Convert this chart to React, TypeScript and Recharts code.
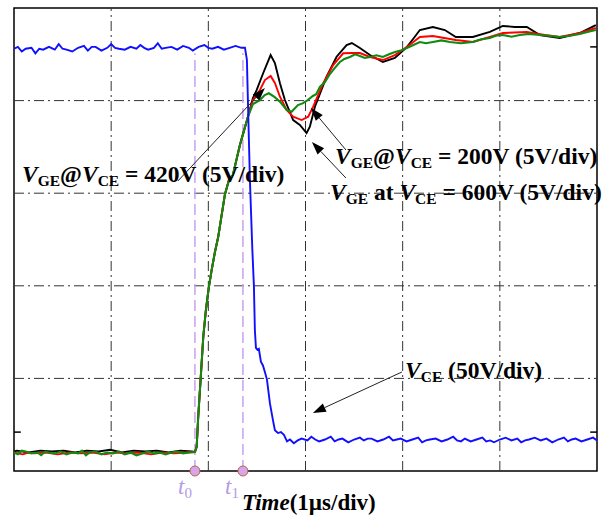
import React from 'react';
import {
  LineChart,
  Line,
  XAxis,
  YAxis,
  ReferenceLine,
  ReferenceDot,
  ReferenceArea,
} from 'recharts';

type Pt = [number, number];

// x: time in µs from the left edge (1 µs/div), y: screen divisions from the bottom
const timeTicks = [0, 1, 2, 3, 4, 5, 6];
const divTicks = [0, 1, 2, 3, 4, 5];
const gridTimes = [1, 2, 3, 4, 5];
const gridDivs = [1, 2, 3, 4];

const t0 = 1.862;
const t1 = 2.356;
const cursorTop = 4.51;

// V_CE trace (blue)
const vceHigh: Pt[] = [
  [0, 4.56], [0.04, 4.58], [0.08, 4.53], [0.12, 4.56], [0.18, 4.57], [0.22, 4.51], [0.26, 4.56],
  [0.3, 4.55], [0.36, 4.58], [0.42, 4.55], [0.46, 4.61], [0.5, 4.56], [0.54, 4.55], [0.6, 4.53],
  [0.66, 4.57], [0.72, 4.59], [0.76, 4.54], [0.8, 4.58], [0.84, 4.58], [0.9, 4.54], [0.96, 4.57],
  [1.0, 4.61], [1.04, 4.57], [1.08, 4.56], [1.14, 4.55], [1.2, 4.58], [1.26, 4.56], [1.3, 4.6],
  [1.34, 4.57], [1.38, 4.55], [1.44, 4.57], [1.48, 4.62], [1.52, 4.56], [1.56, 4.57], [1.62, 4.58],
  [1.68, 4.55], [1.74, 4.59], [1.8, 4.57], [1.84, 4.54], [1.9, 4.58], [1.96, 4.6], [2.0, 4.57],
  [2.04, 4.56], [2.1, 4.58], [2.16, 4.55], [2.22, 4.57], [2.28, 4.59], [2.34, 4.57],
];
const vceFall: Pt[] = [
  [2.377, 4.57], [2.397, 4.44], [2.407, 4.01], [2.428, 3.14], [2.453, 2.39], [2.469, 2.0],
  [2.479, 1.52], [2.49, 1.33], [2.505, 1.31], [2.52, 1.32], [2.541, 1.18], [2.562, 1.14],
  [2.582, 1.07], [2.603, 0.99], [2.634, 0.73], [2.665, 0.55], [2.685, 0.44], [2.716, 0.41],
  [2.747, 0.42], [2.778, 0.39], [2.81, 0.32],
];
const vceLow: Pt[] = [
  [2.84, 0.34], [2.88, 0.3], [2.92, 0.33], [2.96, 0.35], [3.02, 0.33], [3.06, 0.37], [3.1, 0.34],
  [3.14, 0.32], [3.2, 0.34], [3.26, 0.37], [3.3, 0.32], [3.34, 0.34], [3.38, 0.35], [3.44, 0.31],
  [3.5, 0.34], [3.56, 0.36], [3.6, 0.33], [3.64, 0.35], [3.68, 0.35], [3.74, 0.32], [3.8, 0.34],
  [3.86, 0.37], [3.9, 0.33], [3.94, 0.34], [3.98, 0.35], [4.04, 0.32], [4.1, 0.34], [4.16, 0.36],
  [4.2, 0.31], [4.24, 0.33], [4.28, 0.34], [4.34, 0.35], [4.4, 0.32], [4.46, 0.34], [4.52, 0.37],
  [4.56, 0.33], [4.6, 0.32], [4.64, 0.35], [4.7, 0.32], [4.76, 0.34], [4.82, 0.36], [4.86, 0.32],
  [4.9, 0.33], [4.94, 0.31], [5.0, 0.34], [5.06, 0.36], [5.12, 0.33], [5.18, 0.35], [5.22, 0.31],
  [5.26, 0.33], [5.3, 0.34], [5.36, 0.36], [5.42, 0.33], [5.48, 0.35], [5.54, 0.31], [5.6, 0.34],
  [5.66, 0.36], [5.7, 0.32], [5.74, 0.34], [5.78, 0.35], [5.84, 0.32], [5.9, 0.34], [5.96, 0.36],
  [6.0, 0.33],
];

// V_GE traces, shared turn-on ramp
const vgeRise: Pt[] = [
  [1.862, 0.205], [1.88, 0.262], [1.896, 0.586], [1.921, 0.997], [1.948, 1.45], [1.975, 1.74],
  [2.006, 1.99], [2.034, 2.17], [2.068, 2.365], [2.102, 2.53], [2.171, 2.99], [2.212, 3.14],
  [2.253, 3.197], [2.325, 3.52], [2.407, 3.823],
];

const vge420Base: Pt[] = [
  [0, 0.2], [0.04, 0.18], [0.08, 0.22], [0.12, 0.21], [0.18, 0.19], [0.24, 0.2], [0.28, 0.17],
  [0.32, 0.21], [0.36, 0.2], [0.42, 0.19], [0.48, 0.21], [0.54, 0.18], [0.6, 0.2], [0.66, 0.19],
  [0.7, 0.22], [0.74, 0.17], [0.78, 0.2], [0.84, 0.21], [0.9, 0.18], [0.96, 0.2], [1.02, 0.19],
  [1.08, 0.21], [1.14, 0.18], [1.2, 0.2], [1.26, 0.17], [1.32, 0.19], [1.38, 0.21], [1.44, 0.19],
  [1.5, 0.2], [1.56, 0.18], [1.62, 0.2], [1.68, 0.21], [1.74, 0.19], [1.8, 0.2],
];
const vge420Tail: Pt[] = [
  [2.459, 3.963], [2.531, 4.006], [2.58, 4.06], [2.623, 4.079], [2.68, 4.04], [2.737, 3.988],
  [2.805, 3.899], [2.857, 3.88], [2.922, 3.952], [2.97, 3.97], [3.011, 3.996], [3.076, 4.05],
  [3.11, 4.07], [3.148, 4.147], [3.2, 4.2], [3.251, 4.287], [3.3, 4.35], [3.354, 4.417],
  [3.4, 4.45], [3.457, 4.471], [3.51, 4.5], [3.56, 4.482], [3.61, 4.46], [3.663, 4.471],
  [3.73, 4.49], [3.796, 4.471], [3.86, 4.5], [3.92, 4.525], [3.98, 4.54], [4.043, 4.568],
  [4.11, 4.6], [4.177, 4.633], [4.24, 4.62], [4.311, 4.633], [4.4, 4.65], [4.486, 4.633],
  [4.6, 4.62], [4.722, 4.633], [4.8, 4.66], [4.897, 4.676], [4.96, 4.7], [5.031, 4.708],
  [5.12, 4.69], [5.206, 4.708], [5.3, 4.72], [5.412, 4.708], [5.51, 4.7], [5.617, 4.687],
  [5.72, 4.7], [5.823, 4.719], [5.9, 4.74], [5.988, 4.762],
];

const vge200Base: Pt[] = [
  [0, 0.2], [0.09, 0.18], [0.15, 0.2], [0.21, 0.19], [0.33, 0.2], [0.45, 0.18], [0.57, 0.2],
  [0.69, 0.19], [0.81, 0.2], [0.93, 0.18], [1.05, 0.2], [1.17, 0.19], [1.29, 0.2], [1.41, 0.18],
  [1.53, 0.2], [1.65, 0.19], [1.77, 0.2],
];
const vge200Tail: Pt[] = [
  [2.459, 4.006], [2.531, 4.114], [2.582, 4.222], [2.641, 4.266], [2.685, 4.19], [2.737, 4.042],
  [2.805, 3.898], [2.873, 3.826], [2.96, 3.79], [3.028, 3.826], [3.079, 3.934], [3.182, 4.187],
  [3.285, 4.384], [3.388, 4.511], [3.488, 4.514], [3.56, 4.514], [3.663, 4.471], [3.796, 4.438],
  [3.92, 4.492], [4.043, 4.579], [4.177, 4.687], [4.311, 4.698], [4.547, 4.654], [4.722, 4.633],
  [4.897, 4.687], [5.031, 4.73], [5.278, 4.741], [5.463, 4.708], [5.617, 4.687], [5.823, 4.73],
  [5.988, 4.784],
];

const vge600Base: Pt[] = [
  [0, 0.21], [0.03, 0.22], [0.15, 0.2], [0.27, 0.22], [0.39, 0.21], [0.51, 0.22], [0.63, 0.2],
  [0.75, 0.22], [0.87, 0.21], [0.99, 0.23], [1.11, 0.2], [1.23, 0.22], [1.35, 0.21], [1.47, 0.22],
  [1.59, 0.2], [1.71, 0.22], [1.83, 0.21],
];
const vge600Tail: Pt[] = [
  [2.459, 4.028], [2.497, 4.114], [2.565, 4.298], [2.641, 4.492], [2.685, 4.406], [2.737, 4.187],
  [2.788, 4.006], [2.873, 3.79], [2.942, 3.737], [3.011, 3.65], [3.045, 3.718], [3.097, 3.934],
  [3.217, 4.258], [3.32, 4.474], [3.423, 4.6], [3.477, 4.622], [3.56, 4.568], [3.663, 4.492],
  [3.796, 4.417], [3.92, 4.46], [4.043, 4.579], [4.115, 4.676], [4.177, 4.762], [4.311, 4.795],
  [4.434, 4.762], [4.547, 4.687], [4.722, 4.687], [4.897, 4.741], [5.031, 4.806], [5.154, 4.795],
  [5.278, 4.795], [5.412, 4.708], [5.617, 4.676], [5.823, 4.73], [5.988, 4.816],
];

const toRows = (pts: Pt[]) => pts.map(([t, v]) => ({ t, v }));

const vceData = toRows([...vceHigh, ...vceFall, ...vceLow]);
const vge420Data = toRows([...vge420Base, ...vgeRise, ...vge420Tail]);
const vge200Data = toRows([...vge200Base, ...vgeRise, ...vge200Tail]);
const vge600Data = toRows([...vge600Base, ...vgeRise, ...vge600Tail]);

// annotation arrows, tail -> head, in axis units
const arrows: [Pt, Pt][] = [
  [[1.687, 3.132], [2.582, 4.136]],
  [[3.416, 3.467], [3.056, 3.92]],
  [[3.416, 3.164], [3.066, 3.553]],
  [[3.992, 1.069], [3.076, 0.626]],
];

// little level markers at the frame edge
const levelMarks: [Pt, Pt][] = [
  [[0, 0.42], [0.07, 0.42]],
  [[5.93, 0.42], [6, 0.42]],
  [[5.93, 4.58], [6, 4.58]],
];

const SERIF = '"Liberation Serif", "Times New Roman", serif';
const GRID = '#333333';
const GRID_DASH = '10 4 2 4';
const CURSOR = '#c8a2f4';
const FS = 23.5;
const SUB = 15.5;

const ArrowShape = (props: any) => {
  const { x1, y1, x2, y2 } = props;
  const a = Math.atan2(y2 - y1, x2 - x1);
  const len = 13;
  const half = 4.5;
  const bx = x2 - len * Math.cos(a);
  const by = y2 - len * Math.sin(a);
  const px = -Math.sin(a) * half;
  const py = Math.cos(a) * half;
  return (
    <g>
      <line x1={x1} y1={y1} x2={bx} y2={by} stroke="#222" strokeWidth={1} />
      <polygon points={`${x2},${y2} ${bx + px},${by + py} ${bx - px},${by - py}`} fill="#000" />
    </g>
  );
};

// "V_GE <mid> V_CE <rest>" with italic V and lowered subscripts
const VLabel = ({ x, y, mid, rest }: { x: number; y: number; mid: string; rest: string }) => (
  <text x={x} y={y}>
    <tspan fontStyle="italic">V</tspan>
    <tspan fontSize={SUB} dy={4}>GE</tspan>
    <tspan dy={-4}>{mid}</tspan>
    <tspan fontStyle="italic">V</tspan>
    <tspan fontSize={SUB} dy={4}>CE</tspan>
    <tspan dy={-4}>{rest}</tspan>
  </text>
);

function App() {
  return (
    <div style={{ position: 'absolute', left: 0, top: 0, width: 606, height: 516, background: '#fff' }}>
      <LineChart
        width={606}
        height={516}
        margin={{ top: 8, right: 9, left: 14, bottom: 45 }}
      >
        <XAxis
          dataKey="t"
          type="number"
          domain={[0, 6]}
          ticks={timeTicks}
          height={0}
          tick={false}
          tickLine={false}
          axisLine={false}
          allowDataOverflow
        />
        <YAxis
          type="number"
          domain={[0, 5]}
          ticks={divTicks}
          width={0}
          tick={false}
          tickLine={false}
          axisLine={false}
          allowDataOverflow
        />
        {gridTimes.map((t) => (
          <ReferenceLine key={`gx${t}`} x={t} stroke={GRID} strokeWidth={1} strokeDasharray={GRID_DASH} />
        ))}
        {gridDivs.map((d) => (
          <ReferenceLine key={`gy${d}`} y={d} stroke={GRID} strokeWidth={1} strokeDasharray={GRID_DASH} />
        ))}
        <ReferenceArea x1={0} x2={6} y1={0} y2={5} fill="none" stroke="#000" strokeWidth={1.5} />
        <ReferenceLine segment={[{ x: t0, y: 0 }, { x: t0, y: cursorTop }]} stroke={CURSOR} strokeWidth={1.5} strokeDasharray="11 5" />
        <ReferenceLine segment={[{ x: t1, y: 0 }, { x: t1, y: cursorTop }]} stroke={CURSOR} strokeWidth={1.5} strokeDasharray="11 5" />
        {levelMarks.map(([a, b], i) => (
          <ReferenceLine key={`m${i}`} segment={[{ x: a[0], y: a[1] }, { x: b[0], y: b[1] }]} stroke="#000" strokeWidth={1.5} />
        ))}
        <Line data={vge600Data} dataKey="v" type="linear" stroke="#000000" strokeWidth={1.9} dot={false} isAnimationActive={false} />
        <Line data={vge200Data} dataKey="v" type="linear" stroke="#ff0000" strokeWidth={1.9} dot={false} isAnimationActive={false} />
        <Line data={vge420Data} dataKey="v" type="linear" stroke="#108a10" strokeWidth={2.1} dot={false} isAnimationActive={false} />
        <Line data={vceData} dataKey="v" type="linear" stroke="#1010ff" strokeWidth={1.9} dot={false} isAnimationActive={false} />
        {arrows.map(([a, b], i) => (
          <ReferenceLine key={`a${i}`} segment={[{ x: a[0], y: a[1] }, { x: b[0], y: b[1] }]} shape={ArrowShape} />
        ))}
        <ReferenceDot x={t0} y={0} r={5} fill="#d6a6e8" stroke="#b4644e" strokeWidth={1} />
        <ReferenceDot x={t1} y={0} r={5} fill="#d6a6e8" stroke="#b4644e" strokeWidth={1} />
      </LineChart>

      <svg width={606} height={516} style={{ position: 'absolute', left: 0, top: 0, pointerEvents: 'none' }}>
        <g fontFamily={SERIF} fontWeight="bold" fontSize={FS} fill="#000">
          <VLabel x={22} y={182} mid="@" rest=" = 420V (5V/div)" />
          <VLabel x={335} y={164} mid="@" rest=" = 200V (5V/div)" />
          <VLabel x={330} y={200} mid=" at " rest=" = 600V (5V/div)" />
          <text x={405} y={378}>
            <tspan fontStyle="italic">V</tspan>
            <tspan fontSize={SUB} dy={4}>CE</tspan>
            <tspan dy={-4}>{' (50V/div)'}</tspan>
          </text>
          <text x={242} y={510} fontSize={23}>
            <tspan fontStyle="italic">Time</tspan>
            <tspan>(1µs/div)</tspan>
          </text>
        </g>
        <g fontFamily={SERIF} fontSize={23} fill="#b59be8">
          <text x={178} y={494}>
            <tspan fontStyle="italic">t</tspan>
            <tspan fontSize={15} dy={4}>0</tspan>
          </text>
          <text x={225} y={494}>
            <tspan fontStyle="italic">t</tspan>
            <tspan fontSize={15} dy={4}>1</tspan>
          </text>
        </g>
      </svg>
    </div>
  );
}

export default App;
